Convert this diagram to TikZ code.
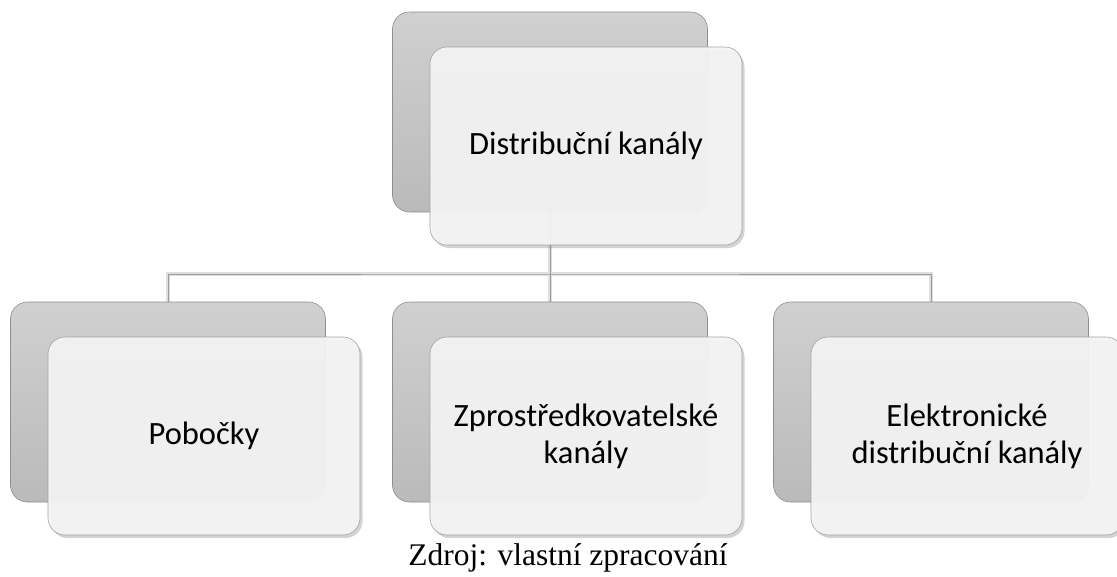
\documentclass[tikz,border=0pt]{standalone}
\usepackage{fontspec}
\setmainfont{Liberation Serif}
\newfontfamily\boxfont{Carlito}
\usetikzlibrary{shadows}
\definecolor{backtop}{HTML}{D0D0D0}
\definecolor{backbot}{HTML}{BABABA}
\definecolor{backedge}{HTML}{8E8E8E}
\definecolor{frontfill}{HTML}{F4F4F4}
\definecolor{frontedge}{HTML}{A2A2A2}
\definecolor{linkcol}{HTML}{9A9A9A}
\tikzset{
  backcard/.style={rectangle, rounded corners=17pt, draw=backedge, line width=0.6pt,
    top color=backtop, bottom color=backbot, minimum width=315pt, minimum height=200pt,
    inner sep=0pt, outer sep=0pt},
  frontcard/.style={rectangle, rounded corners=17pt, draw=frontedge, line width=0.6pt,
    fill=frontfill, fill opacity=0.94, text opacity=1,
    drop shadow={shadow xshift=2.5pt, shadow yshift=-3pt, opacity=0.35},
    minimum width=312pt, minimum height=198pt, inner sep=0pt, outer sep=0pt,
    font=\boxfont\fontsize{32.5pt}{37pt}\selectfont, align=center, text=black},
  linkhalo/.style={draw=black!12, line width=3.5pt},
  link/.style={draw=linkcol, line width=1pt},
}
\begin{document}
\begin{tikzpicture}[x=1pt, y=-1pt]
  \useasboundingbox (0,0) rectangle (1117,576);

  % junction point of the tree connectors
  \coordinate (hub) at (550,274);
  \coordinate (topfoot) at (550,212);
  \coordinate (leftfoot) at (168,302);
  \coordinate (midfoot) at (550,302);
  \coordinate (rightfoot) at (931,302);

  % connectors (behind all cards)
  \path[linkhalo] (topfoot) -- (hub);
  \path[linkhalo] (leftfoot) |- (hub) -| (rightfoot);
  \path[linkhalo] (hub) -- (midfoot);
  \path[link] (topfoot) -- (hub);
  \path[link] (leftfoot) |- (hub) -| (rightfoot);
  \path[link] (hub) -- (midfoot);

  % back cards
  \node[backcard] (b0) at (550,112) {};
  \node[backcard] (b1) at (168,402) {};
  \node[backcard] (b2) at (550,402) {};
  \node[backcard] (b3) at (931,402) {};

  % front cards with labels
  \node[frontcard] (f0) at (586,146) {Distribuční kanály};
  \node[frontcard] (f1) at (204,436) {Pobočky};
  \node[frontcard] (f2) at (586,436) {Zprostředkovatelské\\kanály};
  \node[frontcard] (f3) at (967,436) {Elektronické\\distribuční kanály};

  % source line
  \node[anchor=base, font=\fontsize{31.5pt}{36pt}\selectfont, inner sep=0pt] (src)
    at (568,565) {Zdroj: vlastní zpracování};
\end{tikzpicture}
\end{document}
